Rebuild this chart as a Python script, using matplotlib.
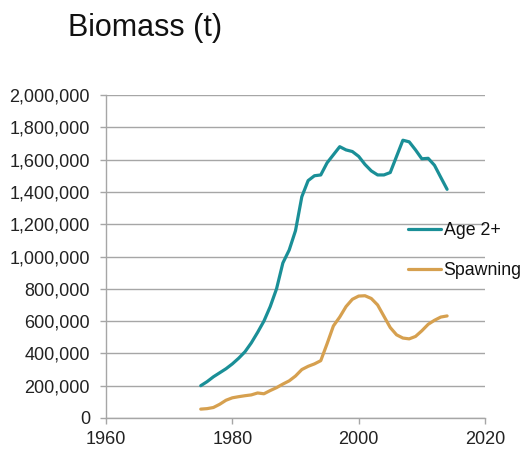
import matplotlib
matplotlib.use("Agg")
import matplotlib.pyplot as plt
from matplotlib.ticker import FuncFormatter

years = list(range(1975, 2015))
age2plus = [200000, 225000, 255000, 280000, 305000, 335000, 370000, 410000, 465000, 530000,
            600000, 690000, 800000, 960000, 1040000, 1160000, 1370000, 1470000, 1500000, 1505000,
            1580000, 1630000, 1680000, 1660000, 1650000, 1620000, 1570000, 1530000, 1505000, 1505000,
            1520000, 1620000, 1720000, 1710000, 1660000, 1605000, 1608000, 1565000, 1490000, 1416000]
spawning = [55000, 58000, 65000, 85000, 110000, 125000, 132000, 138000, 143000, 155000,
            150000, 170000, 188000, 210000, 230000, 260000, 300000, 320000, 335000, 355000,
            460000, 570000, 625000, 690000, 735000, 755000, 757000, 740000, 700000, 630000,
            560000, 515000, 495000, 490000, 505000, 540000, 580000, 605000, 625000, 632000]
series_names = ["Age 2+", "Spawning"]
title = "Biomass (t)"

plt.rcParams['font.family'] = ['Liberation Sans', 'DejaVu Sans']

fig = plt.figure(figsize=(5.25, 4.5), dpi=100)
ax = fig.add_axes([106/525, 1-418/450, (485-106)/525, (418-95)/450])

teal = '#1A8F97'
tan = '#D6A04F'
ax.plot(years, age2plus, color=teal, lw=2.3, solid_joinstyle='round', solid_capstyle='round', label=series_names[0])
ax.plot(years, spawning, color=tan, lw=2.3, solid_joinstyle='round', solid_capstyle='round', label=series_names[1])

ax.set_xlim(1960, 2020)
ax.set_ylim(0, 2000000)
ax.set_xticks([1960, 1980, 2000, 2020])
ax.set_yticks(range(0, 2000001, 200000))
ax.yaxis.set_major_formatter(FuncFormatter(lambda v, p: f"{int(v):,}"))

gray = '#A6A6A6'
ax.grid(axis='y', color=gray, lw=1.0)
ax.set_axisbelow(True)
for s in ['top', 'right']:
    ax.spines[s].set_visible(False)
for s in ['left', 'bottom']:
    ax.spines[s].set_color(gray)
    ax.spines[s].set_linewidth(1.0)
ax.tick_params(axis='both', colors=gray, labelcolor='#222222', labelsize=13, width=1.0, length=4.5)
ax.tick_params(axis='y', pad=7)
ax.tick_params(axis='x', pad=5)

fig.text(68/525, 1-28/450, title, fontsize=22, va='center', ha='left', color='#111111')

leg = ax.legend(loc='upper left', bbox_to_anchor=(408/525, 1-222/450), bbox_transform=fig.transFigure,
                frameon=False, fontsize=12.8, handlelength=1.85, handletextpad=0.15,
                labelspacing=1.3, borderpad=0, borderaxespad=0)
for t in leg.get_texts():
    t.set_color('#111111')

fig.savefig('out.png', dpi=100)
